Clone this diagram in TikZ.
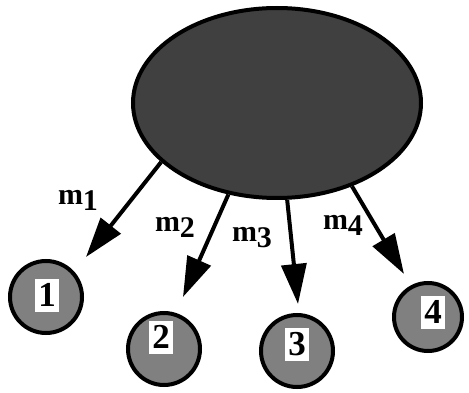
\documentclass[tikz,border=0pt]{standalone}
\usepackage{fontspec}
\setmainfont{Liberation Serif}
\usetikzlibrary{arrows.meta}
\usetikzlibrary{shapes.geometric}
\tikzset{hub/.style = {ellipse, draw, line width=4pt, fill=hubgray,
                       minimum width=288pt, minimum height=190pt},
         site/.style = {circle, draw, line width=4pt, fill=sitegray,
                        minimum size=72pt},
         tag/.style = {fill=white, inner sep=0pt, minimum width=24pt,
                       minimum height=33pt, font=\fontsize{35}{35}\selectfont\bfseries},
         msg/.style = {font=\fontsize{30}{30}\selectfont\bfseries},
         push/.style = {line width=4pt, -{Triangle[length=40pt, width=25pt]}}}
\definecolor{hubgray}{HTML}{404040}
\definecolor{sitegray}{HTML}{808080}
\newcommand{\msgtext}[1]{m\raisebox{-6pt}{#1}}

\begin{document}
\begin{tikzpicture}[x=1pt, y=-1pt]
      \useasboundingbox (0, 0) rectangle (469, 393);

      \node [hub] (hub) at (277, 103) {};

      \node [site] (s1) at (46, 297) {};
      \node [site] (s2) at (164, 349) {};
      \node [site] (s3) at (297, 351) {};
      \node [site, minimum size=68pt] (s4) at (428, 317) {};

      \node [tag] (t1) at (47, 295) {1};
      \node [tag] (t2) at (161, 337) {2};
      \node [tag] (t3) at (297, 344) {3};
      \node [tag] (t4) at (433, 312) {4};

      % arrow ends, just short of the sites
      \coordinate (e1) at (86, 257);
      \coordinate (e2) at (183, 297);
      \coordinate (e3) at (298, 304);
      \coordinate (e4) at (404, 274);

      \draw [push] (hub.207) -- (e1);
      \draw [push] (hub.242) -- (e2);
      \draw [push] (hub.276) -- (e3);
      \draw [push] (hub.312) -- (e4);

      \node [msg] (m1) at (78, 200) {\msgtext{1}};
      \node [msg] (m2) at (175, 227) {\msgtext{2}};
      \node [msg] (m3) at (252, 238) {\msgtext{3}};
      \node [msg] (m4) at (343, 225) {\msgtext{4}};
    \end{tikzpicture}
\end{document}
